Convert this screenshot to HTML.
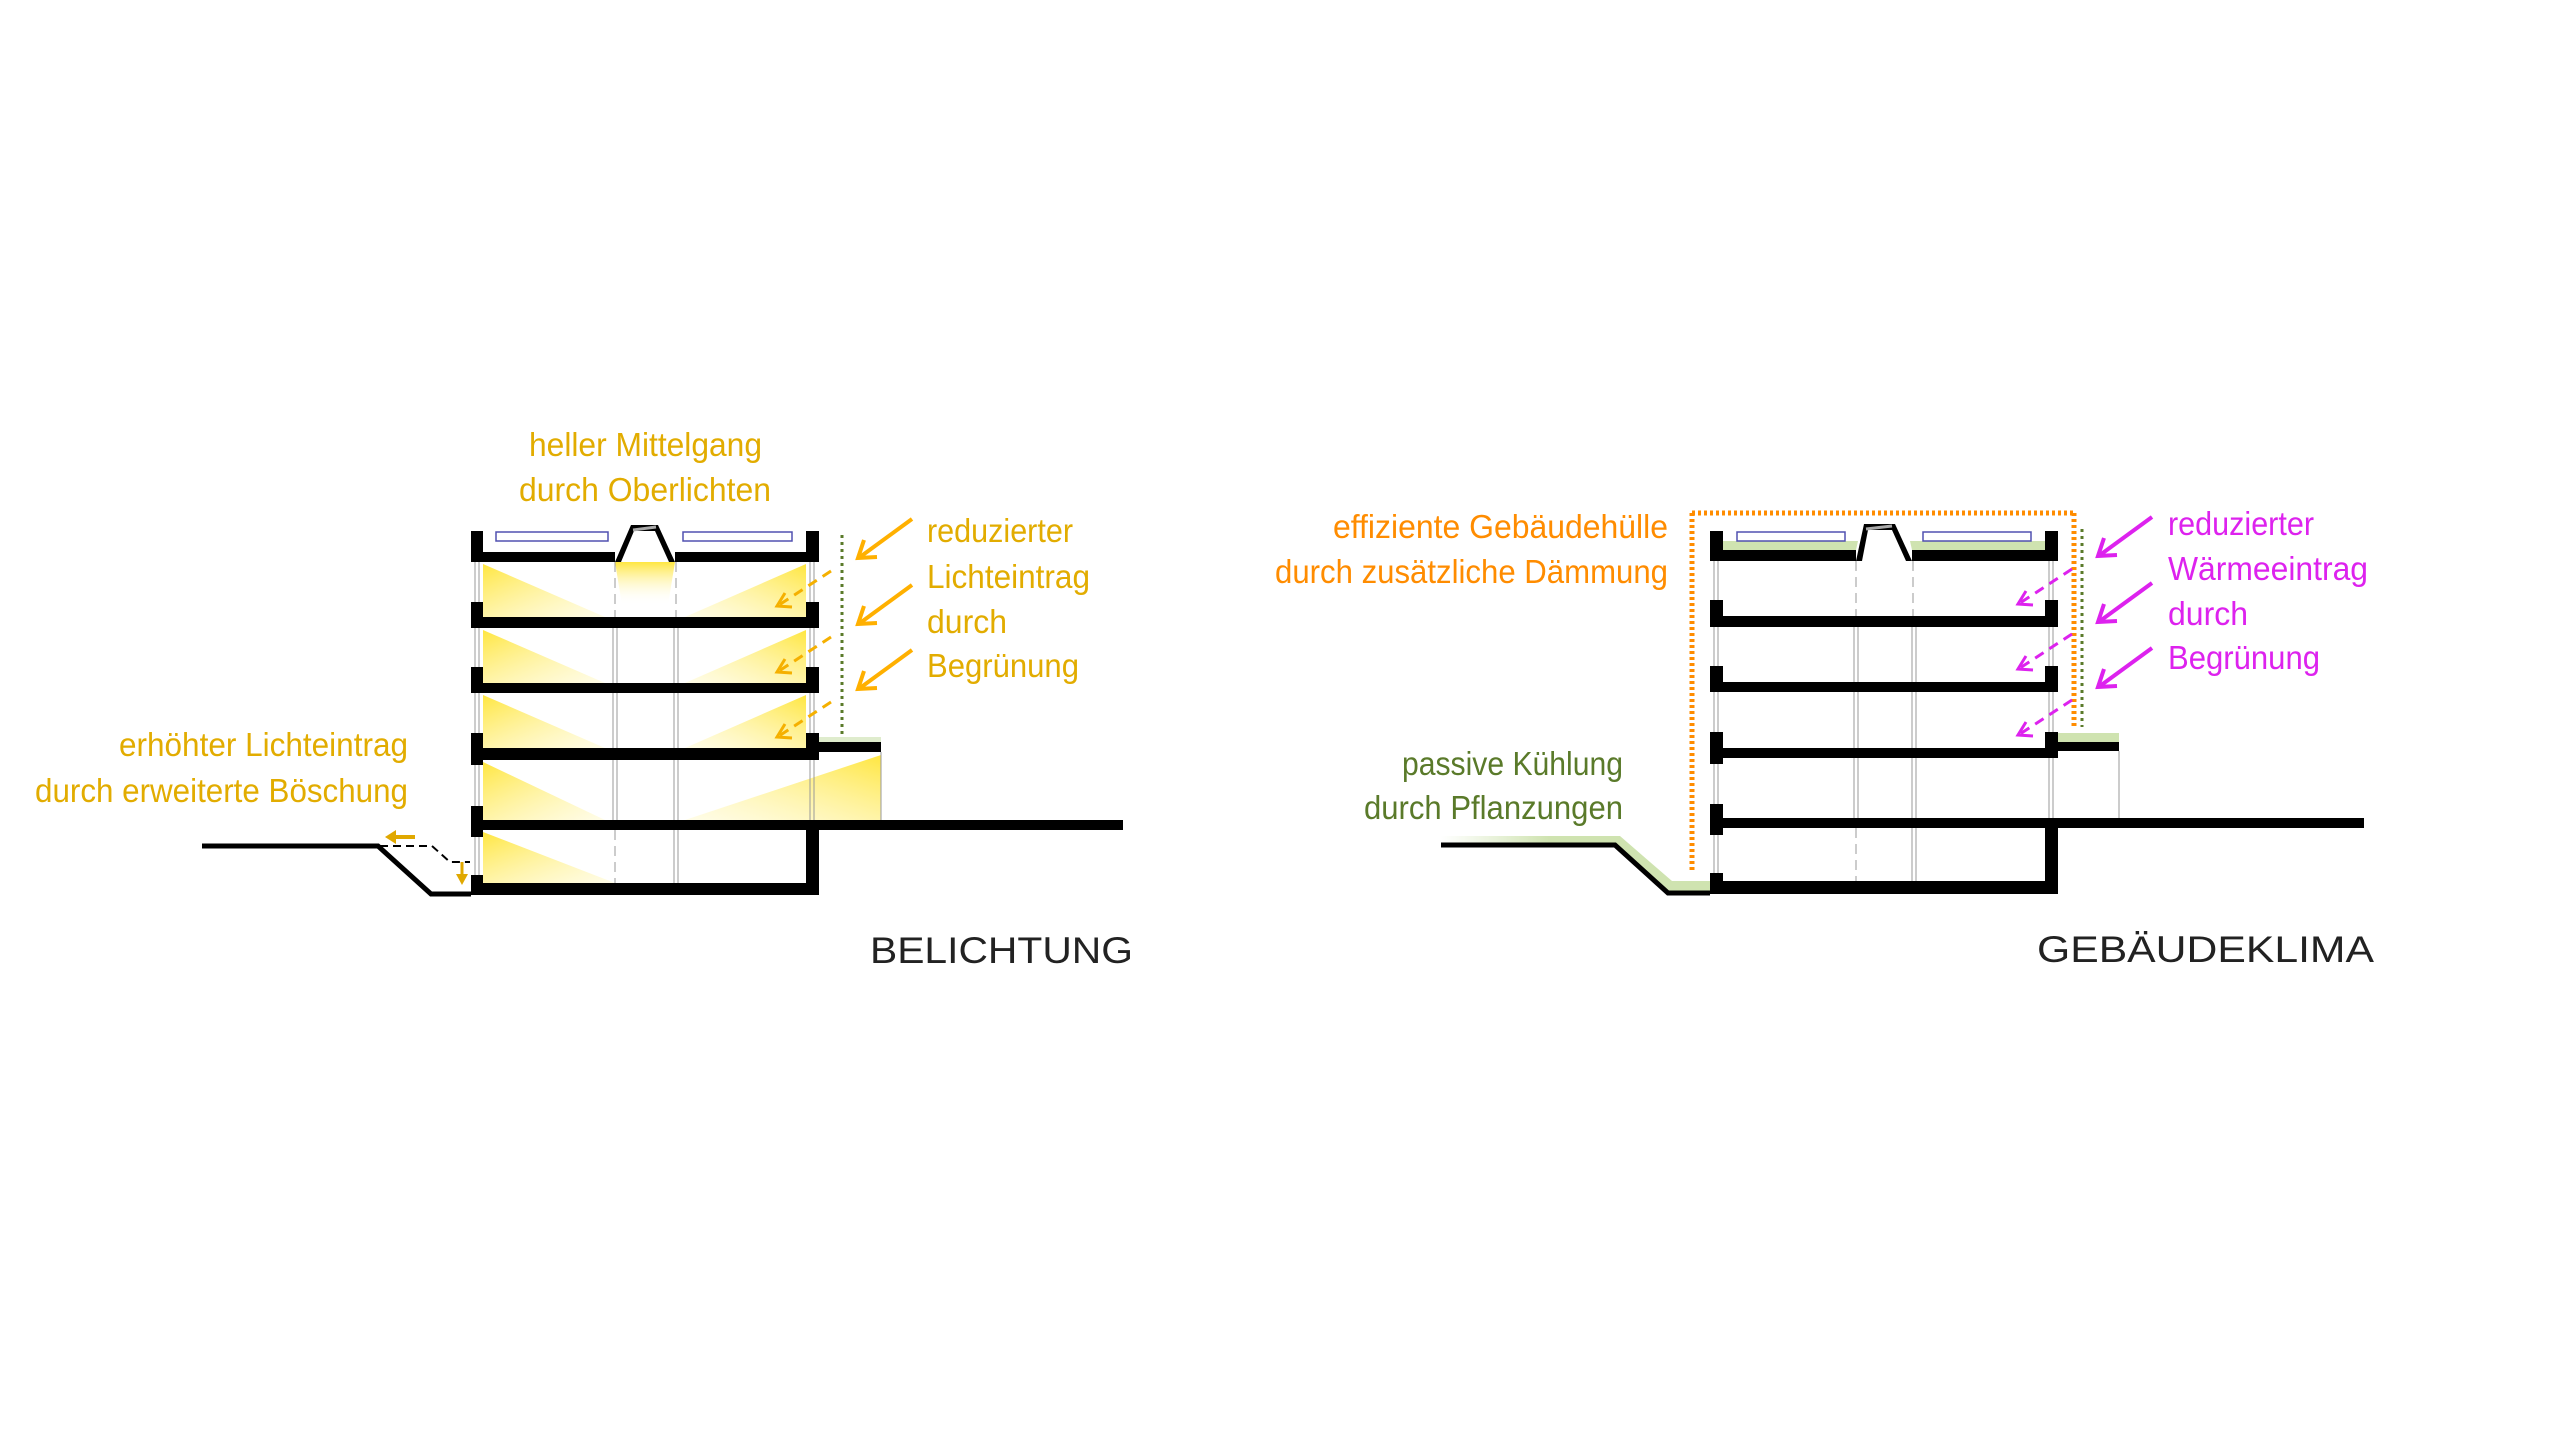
<!DOCTYPE html>
<html><head><meta charset="utf-8"><style>
html,body{margin:0;padding:0;background:#fff;}
svg{display:block;}
text{font-family:"Liberation Sans",sans-serif;}
</style></head><body>
<svg width="2560" height="1439" viewBox="0 0 2560 1439" xmlns="http://www.w3.org/2000/svg">
<defs>
<linearGradient id="gl" x1="0" y1="0" x2="1" y2="1"><stop offset="0" stop-color="#ffe640"/><stop offset="1" stop-color="#fff6b0" stop-opacity="0.3"/></linearGradient>
<linearGradient id="gr" x1="1" y1="0" x2="0" y2="1"><stop offset="0" stop-color="#ffe640"/><stop offset="1" stop-color="#fff6b0" stop-opacity="0.3"/></linearGradient>
<linearGradient id="gs" x1="0" y1="0" x2="0" y2="1"><stop offset="0" stop-color="#ffe640"/><stop offset="1" stop-color="#fff" stop-opacity="0"/></linearGradient>
<linearGradient id="gg" x1="0" y1="0" x2="1" y2="0"><stop offset="0" stop-color="#d4e6b8" stop-opacity="0"/><stop offset="0.4" stop-color="#cfe3b0"/></linearGradient>
</defs>

<!-- ============ LEFT: BELICHTUNG ============ -->
<g>
<!-- light wedges -->
<g>
<polygon points="483,564 483,617 605,617" fill="url(#gl)"/>
<polygon points="806,564 806,617 685,617" fill="url(#gr)"/>
<polygon points="483,630 483,683 605,683" fill="url(#gl)"/>
<polygon points="806,630 806,683 685,683" fill="url(#gr)"/>
<polygon points="483,695 483,748 605,748" fill="url(#gl)"/>
<polygon points="806,695 806,748 685,748" fill="url(#gr)"/>
<polygon points="483,762 483,820 605,820" fill="url(#gl)"/>
<polygon points="881,755 881,820 685,820" fill="url(#gr)"/>
<polygon points="483,832 483,883 615,883" fill="url(#gl)"/>
<polygon points="615,562 675,562 668,605 622,605" fill="url(#gs)"/>
</g>
<!-- columns -->
<g stroke="#999" stroke-width="1">
<line x1="613" y1="617" x2="613" y2="830"/><line x1="617" y1="617" x2="617" y2="830"/>
<line x1="674" y1="617" x2="674" y2="883"/><line x1="678" y1="617" x2="678" y2="883"/>
<line x1="615" y1="562" x2="615" y2="617" stroke-dasharray="10,6"/>
<line x1="676" y1="562" x2="676" y2="617" stroke-dasharray="10,6"/>
<line x1="615" y1="830" x2="615" y2="883" stroke-dasharray="10,6"/>
<line x1="475" y1="531" x2="475" y2="895"/><line x1="479" y1="531" x2="479" y2="895"/>
<line x1="810" y1="562" x2="810" y2="830"/><line x1="814" y1="562" x2="814" y2="830"/>
<line x1="881" y1="752" x2="881" y2="820"/>
</g>
<!-- slabs -->
<g fill="#000">
<rect x="471" y="552" width="144" height="10"/><rect x="675" y="552" width="144" height="10"/>
<rect x="471" y="617" width="348" height="11"/>
<rect x="471" y="683" width="348" height="10"/>
<rect x="471" y="748" width="348" height="12"/>
<rect x="471" y="820" width="652" height="10"/>
<rect x="471" y="883" width="348" height="12"/>
<rect x="819" y="742" width="62" height="10"/>
<!-- walls -->
<rect x="471" y="531" width="12" height="31"/><rect x="806" y="531" width="13" height="31"/>
<rect x="471" y="602" width="12" height="26"/><rect x="806" y="602" width="13" height="26"/>
<rect x="471" y="667" width="12" height="26"/><rect x="806" y="667" width="13" height="26"/>
<rect x="471" y="733" width="12" height="32"/><rect x="806" y="733" width="13" height="27"/>
<rect x="471" y="806" width="12" height="31"/>
<rect x="471" y="875" width="12" height="20"/><rect x="806" y="830" width="13" height="65"/>
</g>
<rect x="819" y="737" width="62" height="5" fill="#dfeccd"/>
<!-- skylight -->
<polygon points="615,562 631,525 658,525 675,562 669,562 655,531 634,531 621,562" fill="#000"/>
<line x1="633" y1="530" x2="656" y2="527" stroke="#aaa" stroke-width="3"/>
<!-- roof windows -->
<rect x="496" y="532" width="112" height="9" fill="none" stroke="#5050b0" stroke-width="1.5"/>
<rect x="683" y="532" width="109" height="9" fill="none" stroke="#5050b0" stroke-width="1.5"/>
<!-- ground left -->
<polyline points="202,846 378,846 431,894 471,894" fill="none" stroke="#000" stroke-width="5"/>
<!-- small arrows at slope -->
<polyline points="380,846 432,846 450,862 470,862" fill="none" stroke="#000" stroke-width="2" stroke-dasharray="8,5"/>
<line x1="415" y1="837" x2="392" y2="837" stroke="#e0a800" stroke-width="4"/>
<polygon points="385,837 396,830 396,844" fill="#e0a800"/>
<line x1="462" y1="862" x2="462" y2="878" stroke="#e0a800" stroke-width="3"/>
<polygon points="462,885 456,874 468,874" fill="#e0a800"/>
<!-- green dotted -->
<line x1="842" y1="535" x2="842" y2="735" stroke="#5a7a2a" stroke-width="3" stroke-dasharray="3,4"/>
<!-- dashed yellow arrows -->
<g stroke="#f5b000" stroke-width="3" fill="none">
<line x1="831" y1="571" x2="779" y2="605" stroke-dasharray="10,7"/>
<polyline points="785,593 777,606 792,607"/>
<line x1="831" y1="637" x2="779" y2="671" stroke-dasharray="10,7"/>
<polyline points="785,659 777,672 792,673"/>
<line x1="831" y1="702" x2="779" y2="736" stroke-dasharray="10,7"/>
<polyline points="785,724 777,737 792,738"/>
</g>
<!-- solid arrows -->
<g stroke="#ffb000" stroke-width="4" fill="none">
<line x1="912" y1="519" x2="860" y2="557"/><polyline points="864,540 858,558 877,557"/>
<line x1="912" y1="585" x2="860" y2="623"/><polyline points="864,606 858,624 877,623"/>
<line x1="912" y1="650" x2="860" y2="688"/><polyline points="864,671 858,689 877,688"/>
</g>
<!-- texts -->
<g fill="#e2ac00" font-size="33">
<text x="529" y="456" textLength="233" lengthAdjust="spacingAndGlyphs">heller Mittelgang</text>
<text x="519" y="501" textLength="252" lengthAdjust="spacingAndGlyphs">durch Oberlichten</text>
<text x="927" y="542" textLength="146" lengthAdjust="spacingAndGlyphs">reduzierter</text>
<text x="927" y="588" textLength="163" lengthAdjust="spacingAndGlyphs">Lichteintrag</text>
<text x="927" y="633" textLength="80" lengthAdjust="spacingAndGlyphs">durch</text>
<text x="927" y="677" textLength="152" lengthAdjust="spacingAndGlyphs">Begrünung</text>
<text x="119" y="756" textLength="289" lengthAdjust="spacingAndGlyphs">erhöhter Lichteintrag</text>
<text x="35" y="802" textLength="373" lengthAdjust="spacingAndGlyphs">durch erweiterte Böschung</text>
</g>
<text x="870" y="963" font-size="37" fill="#222" textLength="263" lengthAdjust="spacingAndGlyphs">BELICHTUNG</text>
</g>

<!-- ============ RIGHT: GEBÄUDEKLIMA ============ -->
<g>
<!-- green bands -->
<polygon points="1441,836 1620,836 1672,881 1710,881 1710,892 1668,893 1615,845 1441,845" fill="url(#gg)"/>
<polygon points="1723,541 1858,541 1856,550 1723,550" fill="#cfe3b0"/>
<polygon points="1910,541 2045,541 2045,550 1912,550" fill="#cfe3b0"/>
<rect x="2058" y="733" width="61" height="9" fill="#cfe3b0"/>
<!-- columns -->
<g stroke="#999" stroke-width="1">
<line x1="1854" y1="616" x2="1854" y2="828"/><line x1="1858" y1="616" x2="1858" y2="828"/>
<line x1="1912" y1="616" x2="1912" y2="881"/><line x1="1916" y1="616" x2="1916" y2="881"/>
<line x1="1856" y1="561" x2="1856" y2="616" stroke-dasharray="10,6"/>
<line x1="1913" y1="561" x2="1913" y2="616" stroke-dasharray="10,6"/>
<line x1="1856" y1="828" x2="1856" y2="881" stroke-dasharray="10,6"/>
<line x1="1714" y1="531" x2="1714" y2="894"/><line x1="1718" y1="531" x2="1718" y2="894"/>
<line x1="2049" y1="561" x2="2049" y2="828"/><line x1="2053" y1="561" x2="2053" y2="828"/>
<line x1="2119" y1="751" x2="2119" y2="818"/>
</g>
<g fill="#000">
<rect x="1710" y="550" width="146" height="11"/><rect x="1912" y="550" width="146" height="11"/>
<rect x="1710" y="616" width="348" height="11"/>
<rect x="1710" y="682" width="348" height="10"/>
<rect x="1710" y="748" width="348" height="10"/>
<rect x="1710" y="818" width="654" height="10"/>
<rect x="1710" y="881" width="348" height="13"/>
<rect x="2058" y="742" width="61" height="9"/>
<rect x="1710" y="531" width="13" height="30"/><rect x="2045" y="531" width="13" height="30"/>
<rect x="1710" y="600" width="13" height="27"/><rect x="2045" y="600" width="13" height="27"/>
<rect x="1710" y="666" width="13" height="26"/><rect x="2045" y="666" width="13" height="26"/>
<rect x="1710" y="732" width="13" height="32"/><rect x="2045" y="732" width="13" height="26"/>
<rect x="1710" y="804" width="13" height="31"/>
<rect x="1710" y="873" width="13" height="21"/><rect x="2045" y="828" width="13" height="66"/>
</g>
<polygon points="1856,561 1864,524 1895,524 1912,561 1906,561 1892,530 1868,530 1862,561" fill="#000"/>
<line x1="1866" y1="529" x2="1892" y2="526" stroke="#aaa" stroke-width="3"/>
<rect x="1737" y="532" width="108" height="9" fill="none" stroke="#5050b0" stroke-width="1.5"/>
<rect x="1923" y="532" width="108" height="9" fill="none" stroke="#5050b0" stroke-width="1.5"/>
<polyline points="1441,845 1615,845 1668,893 1710,893" fill="none" stroke="#000" stroke-width="5"/>
<!-- orange dotted envelope -->
<g stroke="#ff8c00" stroke-width="5" fill="none" stroke-dasharray="3,3">
<line x1="1692" y1="513" x2="2074" y2="513"/>
<line x1="1692" y1="513" x2="1692" y2="871"/>
<line x1="2074" y1="513" x2="2074" y2="727"/>
</g>
<line x1="2082" y1="529" x2="2082" y2="727" stroke="#5a7a2a" stroke-width="3" stroke-dasharray="3,4"/>
<!-- magenta dashed -->
<g stroke="#dd22ee" stroke-width="3" fill="none">
<line x1="2072" y1="569" x2="2020" y2="603" stroke-dasharray="10,7"/>
<polyline points="2026,591 2018,604 2033,605"/>
<line x1="2072" y1="634" x2="2020" y2="668" stroke-dasharray="10,7"/>
<polyline points="2026,656 2018,669 2033,670"/>
<line x1="2072" y1="700" x2="2020" y2="734" stroke-dasharray="10,7"/>
<polyline points="2026,722 2018,735 2033,736"/>
</g>
<g stroke="#dd22ee" stroke-width="4" fill="none">
<line x1="2152" y1="517" x2="2100" y2="555"/><polyline points="2104,538 2098,556 2117,555"/>
<line x1="2152" y1="583" x2="2100" y2="621"/><polyline points="2104,604 2098,622 2117,621"/>
<line x1="2152" y1="648" x2="2100" y2="686"/><polyline points="2104,669 2098,687 2117,686"/>
</g>
<g font-size="33">
<g fill="#dd22ee">
<text x="2168" y="535" textLength="146" lengthAdjust="spacingAndGlyphs">reduzierter</text>
<text x="2168" y="580" textLength="200" lengthAdjust="spacingAndGlyphs">Wärmeeintrag</text>
<text x="2168" y="625" textLength="80" lengthAdjust="spacingAndGlyphs">durch</text>
<text x="2168" y="669" textLength="152" lengthAdjust="spacingAndGlyphs">Begrünung</text>
</g>
<g fill="#ff8c00">
<text x="1333" y="538" textLength="335" lengthAdjust="spacingAndGlyphs">effiziente Gebäudehülle</text>
<text x="1275" y="583" textLength="393" lengthAdjust="spacingAndGlyphs">durch zusätzliche Dämmung</text>
</g>
<g fill="#5a7a2a">
<text x="1402" y="775" textLength="221" lengthAdjust="spacingAndGlyphs">passive Kühlung</text>
<text x="1364" y="819" textLength="259" lengthAdjust="spacingAndGlyphs">durch Pflanzungen</text>
</g>
</g>
<text x="2037" y="962" font-size="37" fill="#222" textLength="337" lengthAdjust="spacingAndGlyphs">GEBÄUDEKLIMA</text>
</g>
</svg>
</body></html>
